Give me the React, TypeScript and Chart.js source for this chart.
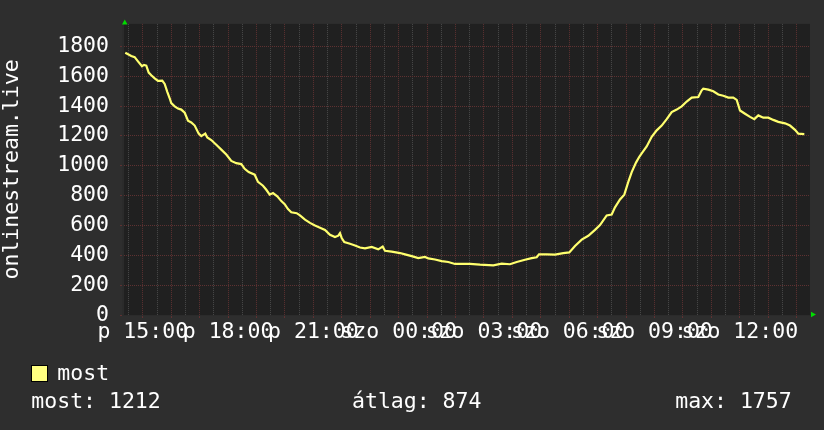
import React, { useEffect, useRef } from 'react';
import { Chart, registerables } from 'chart.js';

Chart.register(...registerables);

// hours relative to Friday 15:00
const hours = [
  -0.616, -0.405, -0.285, -0.169, -0.028, 0.042, 0.123, 0.208, 0.299, 0.419,
  0.535, 0.686, 0.770, 0.862, 0.946, 1.002, 1.122, 1.238, 1.354, 1.474,
  1.590, 1.706, 1.826, 1.966, 2.058, 2.198, 2.269, 2.409, 2.585, 2.761,
  2.937, 3.113, 3.289, 3.465, 3.584, 3.725, 3.936, 4.052, 4.228, 4.344,
  4.464, 4.580, 4.731, 4.872, 4.991, 5.107, 5.223,
  5.413, 5.529, 5.705, 5.881, 6.057, 6.233, 6.409, 6.585, 6.760, 6.877,
  6.936, 6.996, 7.088, 7.288, 7.464, 7.640, 7.816, 8.051, 8.283, 8.438,
  8.519, 8.755, 9.047, 9.223, 9.458, 9.690, 9.926, 10.042, 10.278, 10.514,
  10.746, 10.981, 11.217,
  11.509, 11.861, 12.329, 12.624, 12.916, 13.152, 13.444, 13.679, 13.855, 13.936,
  14.207, 14.499, 14.791, 15.002, 15.202, 15.438, 15.670, 15.906, 16.082, 16.317,
  16.493, 16.609, 16.785, 16.936, 17.077, 17.197, 17.348, 17.464,
  17.548, 17.724, 17.900, 18.076, 18.252, 18.428, 18.604, 18.779, 18.955, 19.131,
  19.307, 19.539, 19.659, 19.715, 19.891, 20.067, 20.243, 20.418, 20.594, 20.770,
  20.890, 21.006, 21.182, 21.358, 21.509, 21.650, 21.826, 22.001, 22.177, 22.353,
  22.589, 22.765, 22.941, 23.057, 23.268,
];

const viewers = [
  1757, 1735, 1727, 1699, 1666, 1675, 1671, 1624, 1606, 1585,
  1568, 1570, 1548, 1495, 1452, 1419, 1398, 1383, 1376, 1355,
  1301, 1290, 1269, 1215, 1198, 1215, 1189, 1172, 1140, 1108,
  1075, 1032, 1017, 1011, 979, 957, 940, 892, 866, 839,
  806, 817, 795, 763, 742, 710, 688,
  682, 667, 639, 617, 600, 585, 570, 537, 522, 531,
  548, 516, 488, 477, 466, 452, 447, 456, 440, 458,
  430, 424, 415, 406, 394, 381, 389, 379, 372, 361,
  355, 342, 342,
  342, 337, 333, 344, 340, 355, 370, 381, 387, 406,
  406, 404, 415, 419, 462, 505, 531, 570, 602, 667,
  673, 721, 774, 806, 892, 957, 1021, 1060,
  1082, 1129, 1194, 1237, 1269, 1312, 1359, 1376, 1398, 1430,
  1456, 1460, 1505, 1516, 1510, 1499, 1477, 1469, 1456, 1456,
  1441, 1370, 1348, 1327, 1312, 1337, 1322, 1322, 1307, 1294,
  1284, 1269, 1240, 1215, 1212,
];

const xTickHours = [0, 3, 6, 9, 12, 15, 18, 21];
const xTickLabels = ['p 15:00', 'p 18:00', 'p 21:00', 'szo 00:00', 'szo 03:00', 'szo 06:00', 'szo 09:00', 'szo 12:00'];
const xMin = -0.696;
const xMax = 23.468;
const yMin = 0;
const yMax = 1950;
const yMinorStep = 100;
const yLabelStep = 200;
const seriesName = 'most';
const axisTitle = 'onlinestream.live';
const statLabels = ['most: 1212', 'átlag: 874', 'max: 1757'];

const FONT = "'DejaVu Sans Mono', monospace";
const FS = 21.5;
const GRID_MINOR = '#4a4a4a';
const GRID_MAJOR = '#5e3131';
const LINE_COLOR = '#ffff6e';
const LEGEND_COLOR = '#ffff80';

const bgPlugin = {
  id: 'plotBg',
  beforeDraw(chart: any) {
    const { ctx, chartArea: a } = chart;
    ctx.save();
    ctx.fillStyle = '#202020';
    ctx.fillRect(a.left, a.top, a.right - a.left, a.bottom - a.top);
    ctx.restore();
  },
};

const arrowPlugin = {
  id: 'arrows',
  afterDraw(chart: any) {
    const { ctx, chartArea: a } = chart;
    ctx.save();
    ctx.fillStyle = '#00dd00';
    const cx = a.left + 1.75;
    ctx.beginPath();
    ctx.moveTo(cx - 2.8, a.top + 0.5);
    ctx.lineTo(cx + 2.8, a.top + 0.5);
    ctx.lineTo(cx, a.top - 4.5);
    ctx.closePath();
    ctx.fill();
    const cy = a.bottom - 0.5;
    ctx.beginPath();
    ctx.moveTo(a.right + 1, cy - 2.8);
    ctx.lineTo(a.right + 1, cy + 2.8);
    ctx.lineTo(a.right + 6, cy);
    ctx.closePath();
    ctx.fill();
    ctx.restore();
  },
};

export default function App() {
  const ref = useRef<HTMLCanvasElement | null>(null);

  useEffect(() => {
    if (!ref.current) return;
    const points = hours.map((h, i) => ({ x: h, y: viewers[i] }));
    const chart = new Chart(ref.current, {
      type: 'line',
      data: {
        datasets: [
          {
            label: seriesName,
            data: points,
            borderColor: LINE_COLOR,
            borderWidth: 2.2,
            pointRadius: 0,
            fill: false,
            tension: 0,
          },
        ],
      },
      options: {
        responsive: false,
        animation: false,
        events: [],
        layout: { padding: { left: 0, top: 13, right: 14, bottom: 0 } },
        plugins: { legend: { display: false }, tooltip: { enabled: false } },
        scales: {
          x: {
            type: 'linear',
            min: xMin,
            max: xMax,
            afterBuildTicks: (s: any) => {
              const t: any[] = [];
              for (let k = -2; k <= 48; k++) {
                const v = k / 2;
                if (v >= s.min && v <= s.max) t.push({ value: v });
              }
              s.ticks = t;
            },
            afterFit: (s: any) => {
              s.height = 115;
            },
            grid: {
              color: (c: any) => (c.tick && Number.isInteger(c.tick.value) ? GRID_MAJOR : GRID_MINOR),
              lineWidth: 1,
              drawTicks: true,
              tickLength: 3,
              tickColor: (c: any) => (c.tick && Number.isInteger(c.tick.value) ? GRID_MAJOR : 'rgba(0,0,0,0)'),
              tickBorderDash: [],
            },
            border: { display: true, color: '#2b2b2b', width: 1, dash: [1, 1] },
            ticks: {
              autoSkip: false,
              maxRotation: 0,
              minRotation: 0,
              padding: 2,
              color: '#ffffff',
              font: { family: FONT, size: FS },
              callback: (v: any) => {
                const i = xTickHours.indexOf(Number(v));
                return i >= 0 ? xTickLabels[i] : '';
              },
            },
          },
          y: {
            type: 'linear',
            min: yMin,
            max: yMax,
            afterBuildTicks: (s: any) => {
              const t: any[] = [];
              for (let v = yMin; v < yMax; v += yMinorStep) t.push({ value: v });
              s.ticks = t;
            },
            afterFit: (s: any) => {
              s.width = 123;
            },
            grid: {
              color: (c: any) => (c.tick && c.tick.value % yLabelStep === 0 ? GRID_MAJOR : GRID_MINOR),
              lineWidth: 1,
              drawTicks: true,
              tickLength: 3,
              tickColor: (c: any) => (c.tick && c.tick.value % yLabelStep === 0 ? GRID_MAJOR : GRID_MINOR),
              tickBorderDash: [],
            },
            border: { display: true, color: '#2b2b2b', width: 2, dash: [1, 1] },
            title: {
              display: true,
              text: axisTitle,
              color: '#ffffff',
              font: { family: FONT, size: FS, lineHeight: '24px' },
              padding: 0,
            },
            ticks: {
              padding: 11,
              color: '#ffffff',
              font: { family: FONT, size: FS },
              callback: (v: any) => (Number(v) % yLabelStep === 0 ? String(v) : ''),
            },
          },
        },
      },
      plugins: [bgPlugin, arrowPlugin],
    } as any);
    return () => chart.destroy();
  }, []);

  const textStyle: React.CSSProperties = {
    position: 'absolute',
    fontFamily: FONT,
    fontSize: FS,
    lineHeight: '25px',
    color: '#ffffff',
    whiteSpace: 'pre',
    margin: 0,
  };

  return (
    <div
      style={{
        position: 'fixed',
        left: 0,
        top: 0,
        width: 824,
        height: 430,
        background: '#2e2e2e',
        overflow: 'hidden',
      }}
    >
      <canvas ref={ref} width={824} height={430} style={{ display: 'block' }} />
      <div
        style={{
          position: 'absolute',
          left: 31,
          top: 365,
          width: 17,
          height: 17,
          boxSizing: 'border-box',
          border: '1px solid #000',
          background: LEGEND_COLOR,
        }}
      />
      <div style={{ ...textStyle, left: 57.3, top: 360 }}>{seriesName}</div>
      <div style={{ ...textStyle, left: 31.3, top: 388 }}>{statLabels[0]}</div>
      <div style={{ ...textStyle, left: 352, top: 388 }}>{statLabels[1]}</div>
      <div style={{ ...textStyle, left: 675.2, top: 388 }}>{statLabels[2]}</div>
    </div>
  );
}
